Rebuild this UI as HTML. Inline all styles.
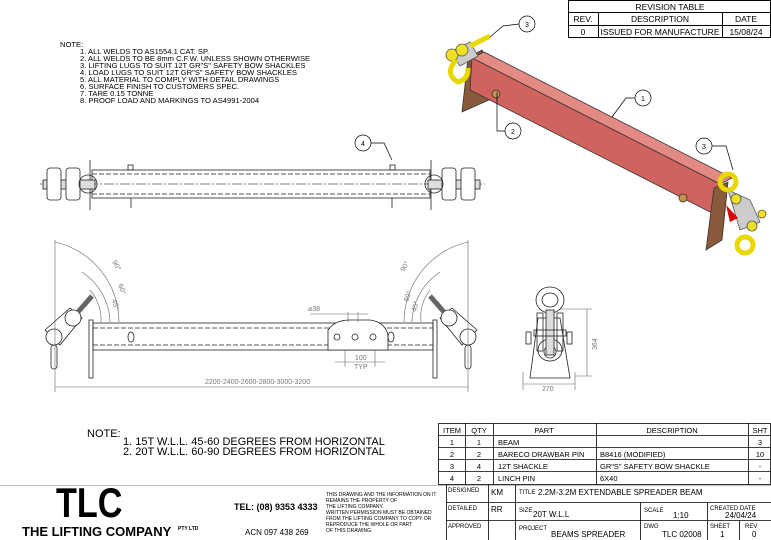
<!DOCTYPE html>
<html><head><meta charset="utf-8"><style>
html,body{margin:0;padding:0;background:#fff;}
svg{display:block;font-family:"Liberation Sans",Arial,sans-serif;}
</style></head><body>
<svg width="771" height="540" viewBox="0 0 771 540" xmlns="http://www.w3.org/2000/svg">
<rect width="771" height="540" fill="#fff"/>
<g stroke="#000" stroke-width="1" fill="none">
<rect x="568.5" y="0.5" width="202" height="37"/>
<line x1="568" y1="12.5" x2="771" y2="12.5"/><line x1="568" y1="25.5" x2="771" y2="25.5"/>
<line x1="598.5" y1="12" x2="598.5" y2="37"/><line x1="722.5" y1="12" x2="722.5" y2="37"/>
</g>
<g font-size="8.5" text-anchor="middle" fill="#000">
<text x="670" y="10">REVISION TABLE</text>
<text x="583" y="22">REV.</text><text x="660" y="22">DESCRIPTION</text><text x="746" y="22">DATE</text>
<text x="583" y="35">0</text><text x="660" y="35">ISSUED FOR MANUFACTURE</text><text x="746" y="35">15/08/24</text>
</g>
<g font-size="7.6" fill="#000">
<text x="60" y="47">NOTE:</text>
<text x="80" y="54">1. ALL WELDS TO AS1554.1 CAT. SP.</text>
<text x="80" y="61">2. ALL WELDS TO BE 8mm C.F.W. UNLESS SHOWN OTHERWISE</text>
<text x="80" y="68">3. LIFTING LUGS TO SUIT 12T GR"S" SAFETY BOW SHACKLES</text>
<text x="80" y="75">4. LOAD LUGS TO SUIT 12T GR"S" SAFETY BOW SHACKLES</text>
<text x="80" y="82">5. ALL MATERIAL TO COMPLY WITH DETAIL DRAWINGS</text>
<text x="80" y="89">6. SURFACE FINISH TO CUSTOMERS SPEC.</text>
<text x="80" y="96">7. TARE 0.15 TONNE</text>
<text x="80" y="103">8. PROOF LOAD AND MARKINGS TO AS4991-2004</text>
</g>
<g stroke="#333" stroke-width="0.8">
<polygon points="462,112 468,58 482,50 500,95" fill="#8a5a3c"/>
<polygon points="472,58 484,52 732,178 720,184" fill="#e48a84"/>
<polygon points="472,58 720,184 716,215 470,90" fill="#d0635e"/>
<polygon points="706,250 714,188 728,182 722,240" fill="#8a5a3c"/>
<circle cx="496" cy="94" r="4" fill="#c8924a"/><circle cx="683" cy="198" r="4" fill="#c8924a"/>
</g>
<g stroke="#555" stroke-width="0.8" fill="#f0e020">
<polygon points="450,52 470,42 478,56 460,66" fill="#ccc"/>
<circle cx="452" cy="55" r="6"/><circle cx="462" cy="50" r="6"/>
<path d="M456,60 q-12,14 2,22 q10,-2 10,-14" fill="none" stroke="#e8d800" stroke-width="5"/>
<line x1="470" y1="46" x2="490" y2="36" stroke="#e8d800" stroke-width="5"/>
<polygon points="728,190 750,200 760,222 740,230" fill="#ccc"/>
<circle cx="728" cy="182" r="8" fill="none" stroke="#e8d800" stroke-width="5"/>
<circle cx="745" cy="245" r="8" fill="none" stroke="#e8d800" stroke-width="5"/>
<circle cx="736" cy="199" r="5"/><circle cx="752" cy="226" r="5"/><circle cx="762" cy="214" r="4"/>
<polygon points="726,205 738,218 730,222" fill="#d00" stroke="none"/>
</g>
<g stroke="#000" stroke-width="0.7" fill="#fff">
<circle cx="527" cy="24" r="8"/><circle cx="513" cy="131" r="8"/><circle cx="643" cy="98" r="8"/><circle cx="704" cy="146" r="8"/><circle cx="363" cy="143" r="8"/>
<polyline points="519,24 503,26 490,37" fill="none"/>
<polyline points="505,131 497,131 497,92" fill="none"/>
<polyline points="635,98 626,98 612,117" fill="none"/>
<polyline points="712,146 726,146 733,170" fill="none"/>
<polyline points="371,143 384,143 392,160" fill="none"/>
</g>
<g font-size="7" text-anchor="middle"><text x="527" y="27">3</text><text x="513" y="134">2</text><text x="643" y="101">1</text><text x="704" y="149">3</text><text x="363" y="146">4</text></g>
<g stroke="#222" stroke-width="0.8" fill="none">
<rect x="92" y="170" width="338" height="28"/>
<line x1="92" y1="174" x2="430" y2="174" stroke-dasharray="5,2"/><line x1="92" y1="194" x2="430" y2="194" stroke-dasharray="5,2"/>
<line x1="40" y1="184" x2="485" y2="184" stroke-dasharray="10,2,2,2" stroke="#555"/>
<line x1="90" y1="160" x2="90" y2="210"/><line x1="431" y1="160" x2="431" y2="210"/>
<rect x="128" y="165" width="5" height="5"/><rect x="390" y="165" width="5" height="5"/>
<line x1="131" y1="198" x2="131" y2="208"/><line x1="392" y1="198" x2="392" y2="208"/>
<rect x="43" y="180" width="52" height="9" fill="#ddd"/><rect x="428" y="180" width="52" height="9" fill="#ddd"/>
<rect x="47" y="168" width="14" height="32" rx="3" fill="#fff"/><rect x="66" y="168" width="14" height="32" rx="3" fill="#fff"/>
<rect x="442" y="168" width="14" height="32" rx="3" fill="#fff"/><rect x="461" y="168" width="14" height="32" rx="3" fill="#fff"/>
<circle cx="88" cy="184" r="9"/><circle cx="434" cy="184" r="9"/>
</g>
<g stroke="#222" stroke-width="0.8" fill="none">
<rect x="93" y="323" width="340" height="27"/>
<line x1="93" y1="328" x2="433" y2="328" stroke-dasharray="5,2"/><line x1="93" y1="345" x2="433" y2="345" stroke-dasharray="5,2"/>
<rect x="89" y="320" width="4" height="58"/><rect x="433" y="320" width="4" height="58"/>
<path d="M328,350 L328,330 Q335,320 350,320 L370,320 Q385,322 388,335 L388,350 Z" fill="#fff"/>
<circle cx="337" cy="337" r="3"/><circle cx="355" cy="337" r="3"/><circle cx="373" cy="337" r="3"/>
<ellipse cx="131" cy="337" rx="3" ry="5"/><ellipse cx="391" cy="337" rx="3" ry="5"/>
<path d="M45,330 L70,308 L82,318 L60,345 Z" fill="#fff"/>
<path d="M477,330 L452,308 L440,318 L462,345 Z" fill="#fff"/>
<circle cx="54" cy="337" r="8" fill="#fff"/><circle cx="73" cy="318" r="8" fill="#fff"/>
<circle cx="468" cy="337" r="8" fill="#fff"/><circle cx="449" cy="318" r="8" fill="#fff"/>
<rect x="51" y="345" width="6" height="24" rx="3"/><rect x="465" y="345" width="6" height="24" rx="3"/>
<line x1="78" y1="312" x2="92" y2="296" stroke-width="5" stroke="#666"/><line x1="444" y1="312" x2="430" y2="296" stroke-width="5" stroke="#666"/>
</g>
<g stroke="#666" stroke-width="0.6" fill="none">
<line x1="55" y1="240" x2="55" y2="392"/><line x1="468" y1="240" x2="468" y2="392"/>
<line x1="55" y1="387" x2="468" y2="387"/>
<path d="M55,242 A82,82 0 0 1 119,322"/><path d="M82,272 A62,62 0 0 1 110,322"/><path d="M90,290 A45,45 0 0 1 101,322"/>
<path d="M468,242 A82,82 0 0 0 404,322"/><path d="M440,272 A62,62 0 0 0 412,322"/><path d="M430,290 A45,45 0 0 0 421,322"/>
<line x1="348" y1="312" x2="348" y2="322"/><line x1="358" y1="312" x2="358" y2="322"/><line x1="310" y1="314" x2="368" y2="314"/>
<line x1="345" y1="350" x2="345" y2="367"/><line x1="375" y1="350" x2="375" y2="367"/><line x1="335" y1="362" x2="385" y2="362"/>
<line x1="523" y1="384" x2="575" y2="384"/><line x1="523" y1="372" x2="523" y2="390"/><line x1="575" y1="372" x2="575" y2="390"/>
<line x1="587" y1="309" x2="587" y2="376"/><line x1="560" y1="309" x2="592" y2="309"/><line x1="575" y1="376" x2="592" y2="376"/>
</g>
<g font-size="7" fill="#777">
<text x="205" y="384">2200-2400-2600-2800-3000-3200</text>
<text x="308" y="311">⌀38</text><text x="355" y="360">100</text><text x="354" y="369">TYP</text>
<text x="542" y="391">270</text>
<text x="597" y="350" transform="rotate(-90 597 350)">364</text>
<text x="112" y="262" transform="rotate(60 112 262)">90°</text>
<text x="118" y="285" transform="rotate(70 118 285)">60°</text>
<text x="112" y="300" transform="rotate(75 112 300)">45°</text>
<text x="404" y="272" transform="rotate(-60 404 272)">90°</text>
<text x="408" y="302" transform="rotate(-70 408 302)">60°</text>
<text x="416" y="312" transform="rotate(-75 416 312)">45°</text>
</g>
<g stroke="#222" stroke-width="0.8" fill="none">
<polygon points="530,378 538,318 560,318 570,378"/>
<ellipse cx="550" cy="300" rx="14" ry="13"/><ellipse cx="550" cy="300" rx="8" ry="7"/>
<ellipse cx="550" cy="350" rx="12" ry="11"/><ellipse cx="550" cy="352" rx="6" ry="6"/>
<rect x="537" y="313" width="6" height="38"/><rect x="557" y="313" width="6" height="38"/><rect x="546" y="310" width="8" height="45" fill="#ddd"/>
<rect x="534" y="330" width="32" height="6"/><rect x="526" y="332" width="5" height="12"/><rect x="567" y="332" width="5" height="12"/>
</g>
<g font-size="11" fill="#000">
<text x="87" y="437">NOTE:</text>
<text x="123" y="445">1. 15T W.L.L. 45-60 DEGREES FROM HORIZONTAL</text>
<text x="123" y="455">2. 20T W.L.L. 60-90 DEGREES FROM HORIZONTAL</text>
</g>
<g stroke="#000" stroke-width="0.8" fill="none">
<rect x="438.5" y="423.5" width="332" height="61"/>
<line x1="438" y1="435.5" x2="771" y2="435.5"/><line x1="438" y1="447.5" x2="771" y2="447.5"/><line x1="438" y1="459.5" x2="771" y2="459.5"/><line x1="438" y1="471.5" x2="771" y2="471.5"/>
<line x1="465.5" y1="423" x2="465.5" y2="485"/><line x1="493.5" y1="423" x2="493.5" y2="485"/><line x1="596.5" y1="423" x2="596.5" y2="485"/><line x1="748.5" y1="423" x2="748.5" y2="485"/>
</g>
<g font-size="7.5" fill="#000">
<g text-anchor="middle"><text x="452" y="433">ITEM</text><text x="479" y="433">QTY</text><text x="544" y="433">PART</text><text x="672" y="433">DESCRIPTION</text><text x="760" y="433">SHT</text>
<text x="452" y="445">1</text><text x="479" y="445">1</text><text x="760" y="445">3</text>
<text x="452" y="457">2</text><text x="479" y="457">2</text><text x="760" y="457">10</text>
<text x="452" y="469">3</text><text x="479" y="469">4</text><text x="760" y="469">-</text>
<text x="452" y="481">4</text><text x="479" y="481">2</text><text x="760" y="481">-</text></g>
<text x="498" y="445">BEAM</text>
<text x="498" y="457">BARECO DRAWBAR PIN</text><text x="600" y="457">B8416 (MODIFIED)</text>
<text x="498" y="469">12T SHACKLE</text><text x="600" y="469">GR"S" SAFETY BOW SHACKLE</text>
<text x="498" y="481">LINCH PIN</text><text x="600" y="481">6X40</text>
</g>
<g stroke="#000" stroke-width="0.8" fill="none">
<line x1="0" y1="485.5" x2="771" y2="485.5" stroke="#aaa"/>
<line x1="446.5" y1="485" x2="446.5" y2="540"/><line x1="488.5" y1="485" x2="488.5" y2="540"/><line x1="515.5" y1="485" x2="515.5" y2="540"/>
<line x1="446" y1="502.5" x2="771" y2="502.5"/><line x1="446" y1="520.5" x2="771" y2="520.5"/>
<line x1="640.5" y1="502" x2="640.5" y2="540"/><line x1="707.5" y1="502" x2="707.5" y2="540"/><line x1="739.5" y1="520" x2="739.5" y2="540"/>
</g>
<text x="0" y="0" font-size="38" font-weight="bold" fill="#000" transform="translate(56,517) scale(0.9,1.1)">TLC</text>
<text x="22" y="536" font-size="13" font-weight="bold">THE LIFTING COMPANY</text><text x="178" y="530" font-size="5" font-weight="bold">PTY LTD</text>
<text x="234" y="510" font-size="9" font-weight="bold">TEL: (08) 9353 4333</text>
<text x="245" y="535" font-size="8">ACN 097 438 269</text>
<g font-size="5" fill="#000">
<text x="326" y="496">THIS DRAWING AND THE INFORMATION ON IT</text><text x="326" y="502">REMAINS THE PROPERTY OF</text><text x="326" y="508">THE LIFTING COMPANY.</text>
<text x="326" y="514">WRITTEN PERMISSION MUST BE OBTAINED</text><text x="326" y="520">FROM THE LIFTING COMPANY TO COPY OR</text>
<text x="326" y="526">REPRODUCE THE WHOLE OR PART</text><text x="326" y="532">OF THIS DRAWING.</text>
</g>
<g font-size="6" fill="#000">
<text x="448" y="492">DESIGNED</text><text x="448" y="510">DETAILED</text><text x="448" y="528">APPROVED</text>
<text x="519" y="494">TITLE</text><text x="519" y="512">SIZE</text><text x="644" y="512">SCALE</text><text x="710" y="510">CREATED DATE</text>
<text x="519" y="530">PROJECT</text><text x="644" y="528">DWG</text><text x="710" y="528">SHEET</text><text x="745" y="528">REV</text>
</g>
<g font-size="8" fill="#000">
<text x="491" y="495">KM</text><text x="491" y="512">RR</text>
<text x="538" y="495">2.2M-3.2M EXTENDABLE SPREADER BEAM</text>
<text x="533" y="517">20T W.L.L</text><text x="673" y="518">1:10</text><text x="725" y="518">24/04/24</text>
<text x="551" y="537">BEAMS SPREADER</text><text x="662" y="537">TLC 02008</text><text x="720" y="537">1</text><text x="752" y="537">0</text>
</g>
</svg>
</body></html>
